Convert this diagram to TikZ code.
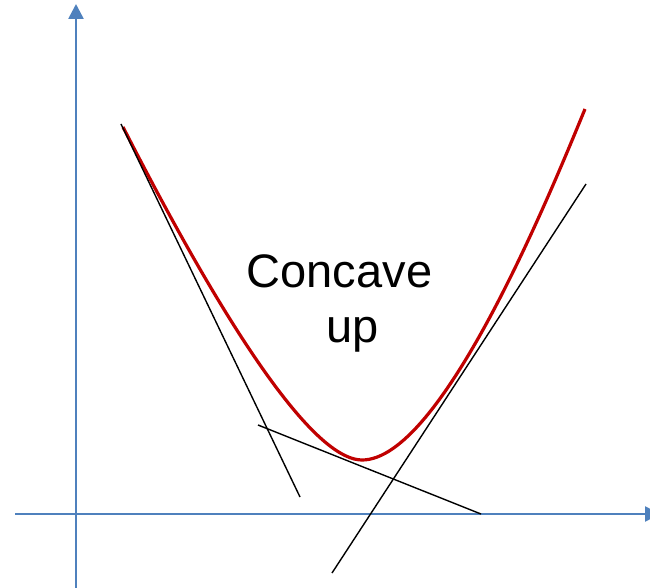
\documentclass[tikz,border=0pt]{standalone}
\usepackage{fontspec}
\setmainfont{Liberation Sans}
\usetikzlibrary{arrows.meta}
\definecolor{axisblue}{HTML}{4F81BD}
\definecolor{curvered}{HTML}{C00000}
\begin{document}
\begin{tikzpicture}[x=1pt,y=-1pt,
  axis/.style={draw=axisblue,line width=2.6pt,-{Triangle[width=15pt,length=15pt]}},
  tangent/.style={draw=black,line width=1.4pt},
  curve/.style={draw=curvered,line width=3.2pt},
  lbl/.style={font=\fontsize{47}{56}\selectfont,inner sep=0pt,anchor=base}]
\useasboundingbox (0,0) rectangle (650,588);
% axes
\coordinate (ybot) at (76,588);
\coordinate (ytop) at (76,4);
\coordinate (xl) at (15,514);
\coordinate (xr) at (660,514);
\draw[axis] (ybot) -- (ytop);
\draw[axis] (xl) -- (xr);
% curve
\coordinate (p0) at (123,127);
\coordinate (pm) at (362,460);
\coordinate (p3) at (585,109);
\draw[curve] (p0) .. controls (248,371) and (322,460) .. (pm)
                  .. controls (440,460) and (545,206.6) .. (p3);
% tangent lines
\coordinate (a1) at (121,124);
\coordinate (a2) at (300,497);
\coordinate (b1) at (258,425);
\coordinate (b2) at (481,514);
\coordinate (c1) at (332,573);
\coordinate (c2) at (586,184);
\draw[tangent] (a1) -- (a2);
\draw[tangent] (b1) -- (b2);
\draw[tangent] (c1) -- (c2);
% label
\node[lbl] (t1) at (339.5,287) {Concave};
\node[lbl] (t2) at (352.5,342) {up};
\end{tikzpicture}
\end{document}
